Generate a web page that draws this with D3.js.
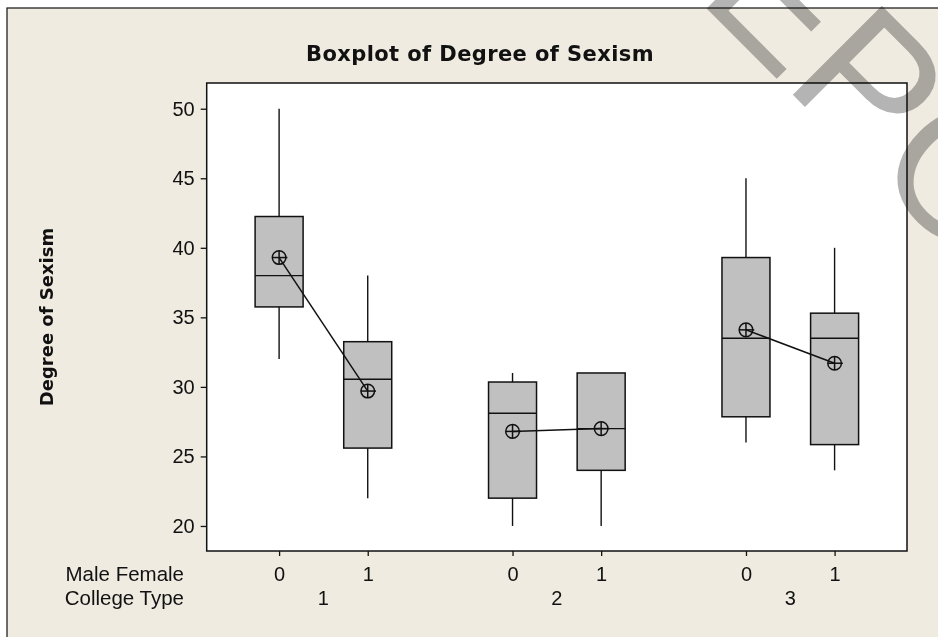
<!DOCTYPE html>
<html lang="en">
<head>
<meta charset="UTF-8">
  <title>Boxplot of Degree of Sexism</title>
  <script src="https://d3js.org/d3.v7.min.js"></script>
  <style>
    body { margin: 0; background: #fff; }
    svg { display: block; font-family: "Liberation Sans", Arial, sans-serif; }
    .tick text { font-size: 20px; fill: #111; }
    .tick line { stroke: #111; stroke-width: 1.3; }
    .box { fill: #c0c0c0; stroke: #111; stroke-width: 1.5; }
    .whisker, .median { stroke: #111; stroke-width: 1.4; }
    .mean-line { stroke: #111; stroke-width: 1.5; fill: none; }
    .mean { fill: none; stroke: #111; stroke-width: 1.5; }
    .watermark { font-size: 183px; fill: #b4b4b4; mix-blend-mode: multiply; }
  </style>
</head>
<body>
<div id="chart"></div>
<script>
  // data
  const collegeTypes = ["1", "2", "3"];
  const genders = ["0", "1"];
  // one entry per box, college type 1..3, gender 0/1
  const whiskerLow  = [32, 22, 20, 20, 26, 24];
  const q1          = [35.75, 25.6, 22, 24, 27.85, 25.85];
  const medians     = [38, 30.55, 28.1, 27, 33.5, 33.5];
  const q3          = [42.25, 33.25, 30.35, 31, 39.3, 35.3];
  const whiskerHigh = [50, 38, 31, 31, 45, 40];
  const means       = [39.3, 29.7, 26.8, 27.0, 34.1, 31.7];
  const yTicks = [20, 25, 30, 35, 40, 45, 50];

  const W = 938, H = 637;
  const plot = { left: 206.7, right: 907, top: 83, bottom: 551 };
  const boxW = 48;

  const svg = d3.select("#chart").append("svg")
    .attr("width", W).attr("height", H);

  // beige frame (cut off at right/bottom in the original)
  svg.append("rect")
    .attr("x", 7).attr("y", 8)
    .attr("width", W + 20).attr("height", H + 20)
    .attr("fill", "#efebe1")
    .attr("stroke", "#111").attr("stroke-width", 1.2);

  svg.append("rect")
    .attr("x", plot.left).attr("y", plot.top)
    .attr("width", plot.right - plot.left).attr("height", plot.bottom - plot.top)
    .attr("fill", "#fff");

  // scales
  const y = d3.scaleLinear().domain([18.2, 51.85]).range([plot.bottom, plot.top]);
  const xGroup = d3.scaleBand().domain(collegeTypes).range([plot.left, plot.right]);
  const xSub = d3.scalePoint().domain(genders).range([0, xGroup.bandwidth()]).padding(0.817);

  const boxes = [];
  collegeTypes.forEach((ct, i) => {
    genders.forEach((g, j) => {
      const k = i * genders.length + j;
      boxes.push({
        ct, g,
        lo: whiskerLow[k], q1: q1[k], med: medians[k], q3: q3[k], hi: whiskerHigh[k], mean: means[k]
      });
    });
  });
  const cx = d => xGroup(d.ct) + xSub(d.g);

  // y axis
  svg.append("g")
    .attr("transform", `translate(${plot.left},0)`)
    .call(d3.axisLeft(y).tickValues(yTicks).tickSize(6).tickPadding(6).tickSizeOuter(0))
    .call(g => g.select(".domain").remove());

  // x axis: gender ticks per college type
  collegeTypes.forEach(ct => {
    svg.append("g")
      .attr("transform", `translate(${xGroup(ct)},${plot.bottom})`)
      .call(d3.axisBottom(xSub).tickSize(5).tickPadding(11).tickSizeOuter(0))
      .call(g => g.select(".domain").remove());
  });

  // x axis: college type row
  svg.append("g")
    .attr("transform", `translate(0,${plot.bottom})`)
    .call(d3.axisBottom(xGroup).tickSize(0).tickPadding(39.5))
    .call(g => g.select(".domain").remove());

  svg.selectAll("text").attr("font-family", null);

  // row labels
  svg.append("text")
    .attr("x", 184).attr("y", 581)
    .attr("text-anchor", "end")
    .style("font-size", "20.5px").attr("fill", "#111")
    .text("Male Female");
  svg.append("text")
    .attr("x", 184).attr("y", 604.7)
    .attr("text-anchor", "end")
    .style("font-size", "20.5px").attr("fill", "#111")
    .text("College Type");

  // whiskers
  svg.selectAll(".whisker")
    .data(boxes)
    .enter().append("line")
    .attr("class", "whisker")
    .attr("x1", cx).attr("x2", cx)
    .attr("y1", d => y(d.lo)).attr("y2", d => y(d.hi));

  // boxes
  svg.selectAll(".box")
    .data(boxes)
    .enter().append("rect")
    .attr("class", "box")
    .attr("x", d => cx(d) - boxW / 2)
    .attr("width", boxW)
    .attr("y", d => y(d.q3))
    .attr("height", d => y(d.q1) - y(d.q3));

  // medians
  svg.selectAll(".median")
    .data(boxes)
    .enter().append("line")
    .attr("class", "median")
    .attr("x1", d => cx(d) - boxW / 2).attr("x2", d => cx(d) + boxW / 2)
    .attr("y1", d => y(d.med)).attr("y2", d => y(d.med));

  // mean connect lines within each college type
  const line = d3.line().x(cx).y(d => y(d.mean));
  collegeTypes.forEach(ct => {
    svg.append("path")
      .attr("class", "mean-line")
      .attr("d", line(boxes.filter(b => b.ct === ct)));
  });

  // mean symbols (circle with cross)
  const r = 6.8;
  const meanG = svg.selectAll(".meang")
    .data(boxes)
    .enter().append("g")
    .attr("transform", d => `translate(${cx(d)},${y(d.mean)})`);
  meanG.append("circle").attr("class", "mean").attr("r", r);
  meanG.append("line").attr("class", "mean").attr("x1", -r).attr("x2", r + 1.5);
  meanG.append("line").attr("class", "mean").attr("y1", -r).attr("y2", r);

  // plot border
  svg.append("rect")
    .attr("x", plot.left).attr("y", plot.top)
    .attr("width", plot.right - plot.left).attr("height", plot.bottom - plot.top)
    .attr("fill", "none")
    .attr("stroke", "#111").attr("stroke-width", 1.5);

  // title
  svg.append("text")
    .attr("x", 480).attr("y", 61)
    .attr("text-anchor", "middle")
    .style("font-family", "'DejaVu Sans', sans-serif")
    .style("font-weight", "bold")
    .style("font-size", "21px")
    .style("letter-spacing", "0.4px")
    .attr("fill", "#111")
    .text("Boxplot of Degree of Sexism");

  // y axis title
  svg.append("text")
    .attr("transform", "translate(53,317) rotate(-90)")
    .attr("text-anchor", "middle")
    .style("font-family", "'DejaVu Sans', sans-serif")
    .style("font-weight", "bold")
    .style("font-size", "18px")
    .attr("fill", "#111")
    .text("Degree of Sexism");

  // watermark in top right corner (cut off like in the original)
  svg.append("text")
    .attr("class", "watermark")
    .attr("transform", "translate(696,-2) rotate(45)")
    .text("EPO");
</script>
</body>
</html>
